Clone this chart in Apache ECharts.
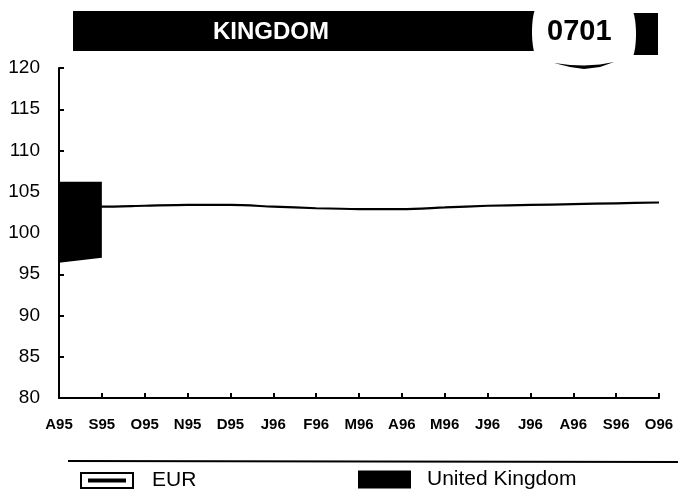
<!DOCTYPE html>
<html>
<head>
<meta charset="utf-8">
<script src="https://cdn.jsdelivr.net/npm/echarts@6/dist/echarts.min.js"></script>
<style>
html,body{margin:0;padding:0;background:#fff;}
#chart{width:681px;height:497px;}
</style>
</head>
<body>
<div id="chart"></div>
<script>
const categories = ['A95','S95','O95','N95','D95','J96','F96','M96','A96','M96','J96','J96','A96','S96','O96'];
const eurValues = [103.2,103.2,103.3,103.4,103.4,103.2,103.0,102.9,102.9,103.1,103.3,103.4,103.5,103.6,103.7];
const ukLow  = [96.4, 97.0];
const ukHigh = [106.2, 106.2];
const yTicks = [80,85,90,95,100,105,110,115,120];
const titleText = 'KINGDOM';
const codeText = '0701';

const chart = echarts.init(document.getElementById('chart'), null, {renderer:'canvas'});
const ukBand = ukHigh.map((v,i)=> +(v - ukLow[i]).toFixed(2));

chart.setOption({
  animation:false,
  backgroundColor:'#fff',
  grid:{left:59, right:22, top:68, bottom:99, containLabel:false},
  xAxis:{
    type:'category', data:categories, boundaryGap:false,
    axisLine:{lineStyle:{color:'#000', width:2}},
    axisTick:{inside:true, length:5, lineStyle:{color:'#000', width:2}, alignWithLabel:true},
    axisLabel:{color:'#000', fontFamily:'Liberation Sans, Arial, sans-serif', fontWeight:'bold', fontSize:15, margin:19, interval:0},
    splitLine:{show:false}
  },
  yAxis:{
    type:'value', min:yTicks[0], max:yTicks[yTicks.length-1], interval:5,
    axisLine:{show:true, lineStyle:{color:'#000', width:2}},
    axisTick:{show:true, inside:true, length:5, lineStyle:{color:'#000', width:2}},
    axisLabel:{color:'#000', fontFamily:'Liberation Sans, Arial, sans-serif', fontSize:19, margin:19},
    splitLine:{show:false}
  },
  legend:[
    {left:80, top:470, padding:0, itemWidth:52, itemHeight:15, selectedMode:false,
     textStyle:{color:'#000', fontSize:21, fontFamily:'Liberation Sans, Arial, sans-serif', padding:[0,0,0,14]},
     data:[{name:'EUR', icon:'path://M0,0 H52 V15 H0 Z M8,6.5 H44 V8.5 H8 Z', itemStyle:{color:'#fff', borderColor:'#000', borderWidth:2}}]},
    {left:358, top:469, padding:0, itemWidth:53, itemHeight:18, selectedMode:false,
     textStyle:{color:'#000', fontSize:21, fontFamily:'Liberation Sans, Arial, sans-serif', padding:[0,0,0,11]},
     data:[{name:'United Kingdom', icon:'rect', itemStyle:{color:'#000'}}]}
  ],
  series:[
    {name:'ukBase', type:'line', stack:'uk', data:ukLow, symbol:'none', lineStyle:{opacity:0}, silent:true, z:1},
    {name:'United Kingdom', type:'line', stack:'uk', data:ukBand, symbol:'none', color:'#000',
     lineStyle:{opacity:0}, areaStyle:{color:'#000', opacity:1}, z:2},
    {name:'EUR', type:'line', data:eurValues, symbol:'none', smooth:0.3, color:'#000',
     lineStyle:{color:'#000', width:2.2}, z:1}
  ],
  graphic:[
    {type:'rect', shape:{x:73, y:11, width:490, height:40}, style:{fill:'#000'}},
    {type:'rect', shape:{x:605, y:13, width:53, height:42}, style:{fill:'#000'}},
    {type:'rect', shape:{x:538, y:4, width:92, height:56}, style:{fill:'#fff'}},
    {type:'ellipse', shape:{cx:538, cy:32, rx:6, ry:26}, style:{fill:'#fff'}},
    {type:'ellipse', shape:{cx:630, cy:34, rx:6, ry:26}, style:{fill:'#fff'}},
    {type:'text', left:213, top:20, style:{text:titleText, fill:'#fff', font:'bold 24px "Liberation Sans", Arial, sans-serif'}},
    {type:'text', left:547, top:17, style:{text:codeText, fill:'#000', font:'bold 29px "Liberation Sans", Arial, sans-serif'}},
    {type:'polygon', shape:{points:[[554,63],[570,67],[584,69],[600,67],[614,62],[600,64.5],[584,65.5],[570,65]]}, style:{fill:'#000'}},
    {type:'line', shape:{x1:68, y1:461, x2:678, y2:462}, style:{stroke:'#000', lineWidth:2}}
  ]
});
</script>
</body>
</html>
